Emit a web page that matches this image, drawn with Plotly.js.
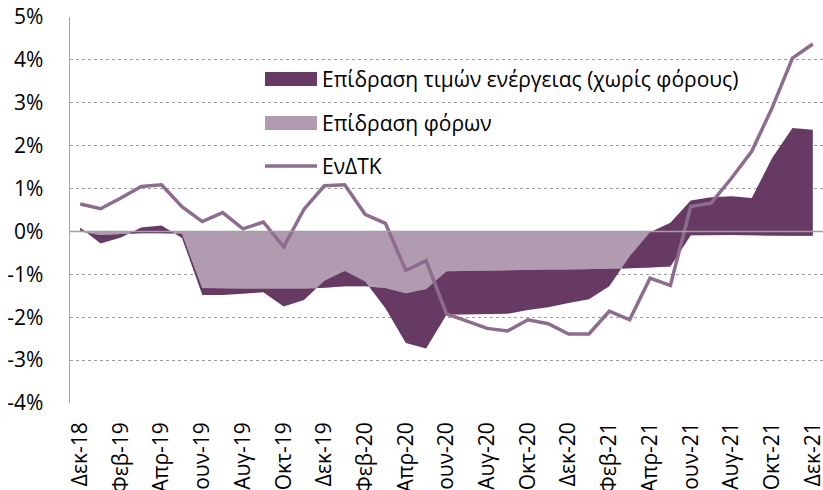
<!DOCTYPE html>
<html>
<head>
<meta charset="utf-8">
<script src="https://cdn.plot.ly/plotly-3.0.1.min.js"></script>
<style>
  html, body { margin: 0; padding: 0; background: #ffffff; }
  #chart { width: 823px; height: 490px; }
</style>
</head>
<body>
<div id="chart"></div>
<script>
// Months Dec-18 .. Dec-21
const months = [
  "Δεκ-18","Ιαν-19","Φεβ-19","Μαρ-19","Απρ-19","Μαϊ-19","Ιουν-19","Ιουλ-19","Αυγ-19","Σεπ-19","Οκτ-19","Νοε-19",
  "Δεκ-19","Ιαν-20","Φεβ-20","Μαρ-20","Απρ-20","Μαϊ-20","Ιουν-20","Ιουλ-20","Αυγ-20","Σεπ-20","Οκτ-20","Νοε-20",
  "Δεκ-20","Ιαν-21","Φεβ-21","Μαρ-21","Απρ-21","Μαϊ-21","Ιουν-21","Ιουλ-21","Αυγ-21","Σεπ-21","Οκτ-21","Νοε-21",
  "Δεκ-21"
];

// Επίδραση φόρων (tax effect), %
const taxEffect = [
  0.00, -0.08, -0.06, -0.04, -0.04, -0.05, -1.32, -1.33, -1.33, -1.33, -1.33, -1.33,
  -1.31, -1.28, -1.28, -1.32, -1.44, -1.34, -0.93, -0.92, -0.91, -0.90, -0.90, -0.89,
  -0.89, -0.88, -0.88, -0.86, -0.84, -0.82, -0.09, -0.08, -0.08, -0.09, -0.10, -0.10,
  -0.10
];

// Επίδραση τιμών ενέργειας (χωρίς φόρους), %
const energyEffect = [
  0.09, -0.20, -0.08, 0.13, 0.18, -0.10, -0.16, -0.15, -0.12, -0.09, -0.42, -0.27,
  0.16, 0.36, 0.11, -0.47, -1.16, -1.39, -1.01, -1.01, -1.01, -1.02, -0.93, -0.88,
  -0.78, -0.70, -0.40, 0.28, 0.82, 1.02, 0.81, 0.88, 0.90, 0.87, 1.81, 2.51,
  2.47
];

// ΕνΔΤΚ, %
const hicp = [
  0.64, 0.53, 0.78, 1.05, 1.09, 0.58, 0.23, 0.44, 0.06, 0.22, -0.36, 0.52,
  1.065, 1.09, 0.40, 0.19, -0.91, -0.68, -1.92, -2.10, -2.26, -2.32, -2.06, -2.15,
  -2.39, -2.39, -1.86, -2.06, -1.09, -1.26, 0.58, 0.66, 1.24, 1.87, 2.88, 4.04,
  4.37
];

const yTicks = [-4, -3, -2, -1, 0, 1, 2, 3, 4, 5];

const seriesNames = [
  "Επίδραση τιμών ενέργειας (χωρίς φόρους)",
  "Επίδραση φόρων",
  "ΕνΔΤΚ"
];

const colDark = "#673a63";
const colLight = "#b09bb0";
const colLine = "#8e6c8d";
const FONT = "Open Sans, Noto Sans, DejaVu Sans, sans-serif";
const FS = 21;

const traces = [
  {
    type: "scatter", mode: "lines", x: months, y: taxEffect,
    stackgroup: "one", fill: "tozeroy", fillcolor: colLight,
    line: { width: 0, color: colLight }, name: seriesNames[1], hoverinfo: "y"
  },
  {
    type: "scatter", mode: "lines", x: months, y: energyEffect,
    stackgroup: "one", fill: "tonexty", fillcolor: colDark,
    line: { width: 0, color: colDark }, name: seriesNames[0], hoverinfo: "y"
  },
  {
    type: "scatter", mode: "lines", x: months, y: hicp,
    line: { width: 3.5, color: colLine }, name: seriesNames[2]
  }
];

// plot area in pixels
const W = 823, H = 490, L = 70, R = 0, T = 17, B = 87;
const pw = W - L - R, ph = H - T - B;
const px = X => (X - L) / pw;
const py = Y => (H - B - Y) / ph;

const legendShapes = [
  { type: "rect", xref: "paper", yref: "paper", x0: px(265), x1: px(317), y0: py(86), y1: py(72),
    fillcolor: colDark, line: { width: 0 } },
  { type: "rect", xref: "paper", yref: "paper", x0: px(265), x1: px(317), y0: py(130), y1: py(116),
    fillcolor: colLight, line: { width: 0 } },
  { type: "line", xref: "paper", yref: "paper", x0: px(265), x1: px(317), y0: py(166), y1: py(166),
    line: { color: colLine, width: 3.5 } }
];

const zeroShape = { type: "line", xref: "paper", yref: "y", x0: 0, x1: 1, y0: 0, y1: 0,
  line: { color: "#a0a0a0", width: 1.5 }, layer: "above" };

const legendAnn = [
  { text: seriesNames[0], y: py(79) },
  { text: seriesNames[1], y: py(123) },
  { text: seriesNames[2], y: py(166) }
].map(a => ({
  xref: "paper", yref: "paper", x: px(320), y: a.y, xanchor: "left", yanchor: "middle",
  text: a.text, showarrow: false, font: { family: FONT, size: FS, color: "#000000" }
}));

const layout = {
  width: W, height: H,
  margin: { l: L, r: R, t: T, b: B, pad: 0 },
  paper_bgcolor: "#ffffff", plot_bgcolor: "#ffffff",
  showlegend: false,
  font: { family: FONT, size: FS, color: "#000000" },
  xaxis: {
    type: "category", range: [-0.5, months.length - 0.5],
    tickmode: "array",
    tickvals: months.filter((m, i) => i % 2 === 0),
    ticktext: months.filter((m, i) => i % 2 === 0),
    tickangle: -90, ticks: "", showgrid: false, showline: false, zeroline: false,
    ticklabelstandoff: 14,
    tickfont: { family: FONT, size: FS, color: "#000000" },
    automargin: false
  },
  yaxis: {
    range: [-4, 5], tickmode: "array", tickvals: yTicks,
    ticktext: yTicks.map(v => v + "%"),
    showgrid: true, gridcolor: "#9c9c9c", gridwidth: 1, griddash: "dot",
    zeroline: false, showline: true, linecolor: "#a6a6a6", linewidth: 1.5,
    ticks: "", ticklabelstandoff: 21,
    tickfont: { family: FONT, size: FS, color: "#000000" },
    automargin: false
  },
  shapes: [zeroShape].concat(legendShapes),
  annotations: legendAnn
};

Plotly.newPlot("chart", traces, layout, { displayModeBar: false, staticPlot: true });
</script>
</body>
</html>
